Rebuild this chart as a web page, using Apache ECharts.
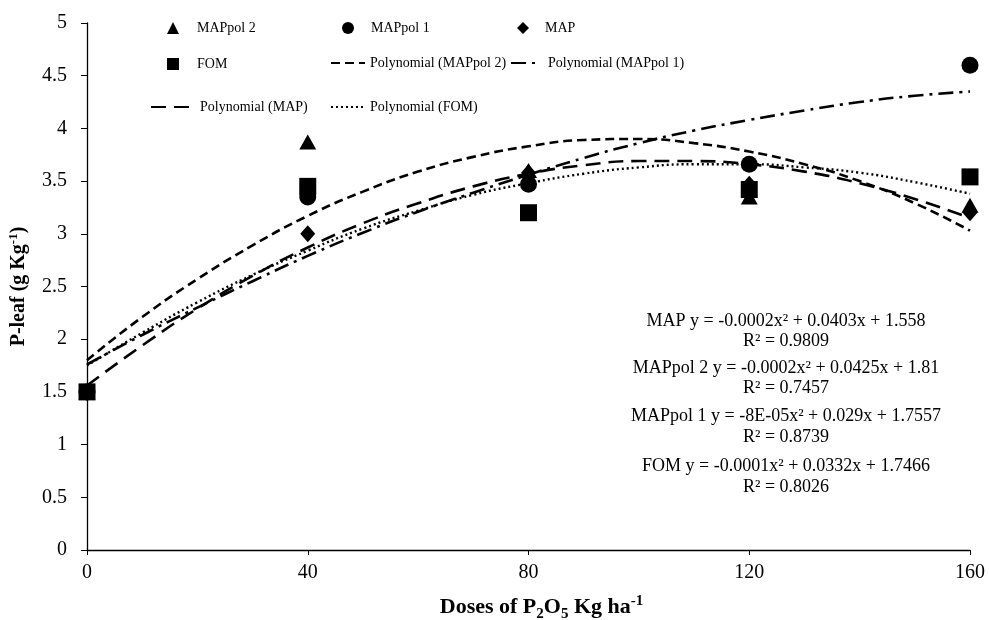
<!DOCTYPE html>
<html><head><meta charset="utf-8">
<script src="https://cdn.jsdelivr.net/npm/echarts@6/dist/echarts.min.js"></script>
<style>html,body{margin:0;padding:0;background:#fff}#c{width:989px;height:620px}</style>
</head><body><div id="c"></div>
<script>
// Data
var doses = [0, 40, 80, 120, 160];
var mapPol2 = [1.5, 3.87, 3.60, 3.35, 3.27];
var mapPol1 = [1.5, 3.35, 3.47, 3.66, 4.60];
var mapVals = [1.5, 3.00, 3.58, 3.47, 3.20];
var fomVals = [1.5, 3.45, 3.20, 3.42, 3.54];

// Trendline curves, every 10 kg
var trendX = [0,10,20,30,40,50,60,70,80,90,100,110,120,130,140,150,160];
var trendMAPpol2 = [1.80,2.21,2.57,2.89,3.17,3.40,3.59,3.73,3.83,3.89,3.90,3.86,3.78,3.66,3.50,3.29,3.03];
var trendMAPpol1 = [1.76,2.04,2.30,2.55,2.79,3.01,3.21,3.39,3.56,3.72,3.86,3.98,4.08,4.17,4.25,4.31,4.35];
var trendMAP     = [1.56,1.94,2.29,2.60,2.87,3.10,3.29,3.45,3.57,3.65,3.69,3.69,3.66,3.59,3.48,3.33,3.15];
var trendFOM     = [1.75,2.06,2.35,2.61,2.84,3.05,3.22,3.37,3.48,3.57,3.63,3.66,3.66,3.63,3.58,3.49,3.38];

var xTicks = [0, 40, 80, 120, 160];
var yTicks = [0, 0.5, 1, 1.5, 2, 2.5, 3, 3.5, 4, 4.5, 5];

var equations = [
  'MAP y = -0.0002x² + 0.0403x + 1.558', 'R² = 0.9809',
  'MAPpol 2 y = -0.0002x² + 0.0425x + 1.81', 'R² = 0.7457',
  'MAPpol 1 y = -8E-05x² + 0.029x + 1.7557', 'R² = 0.8739',
  'FOM y = -0.0001x² + 0.0332x + 1.7466', 'R² = 0.8026'
];

function pairs(xs, ys){ return xs.map(function(x,i){ return [x, ys[i]]; }); }

var FONT = '"Liberation Serif", "Times New Roman", serif';
var chart = echarts.init(document.getElementById('c'), null, {renderer:'canvas'});

function legendBox(name, left, top, w, h, pad, isLine){
  var l = {
    data:[name], left:left, top:top, itemWidth:w, itemHeight:h, itemGap:0,
    padding:0, selectedMode:false,
    textStyle:{fontFamily:FONT, fontSize:14, color:'#000', padding:[0,0,0,pad||0]}
  };
  if (isLine) {
    l.itemStyle = {color:'rgba(0,0,0,0)', borderColor:'rgba(0,0,0,0)', borderWidth:0, opacity:0};
  }
  return l;
}

var eqY = [321, 341, 368, 388, 416, 437, 466, 487];

var option = {
  backgroundColor:'#fff',
  animation:false,
  textStyle:{fontFamily:FONT},
  legend:[
    legendBox('MAPpol 2', 167, 21, 12, 12, 13),
    legendBox('MAPpol 1', 342, 21, 12, 12, 12),
    legendBox('MAP', 517, 21, 12, 12, 11),
    legendBox('FOM', 167, 57, 12, 12, 13),
    legendBox('Polynomial (MAPpol 2)', 330, 56, 34, 14, 0, true),
    legendBox('Polynomial (MAPpol 1)', 510, 56, 30, 14, 2, true),
    legendBox('Polynomial (MAP)', 150, 100, 44, 14, 0, true),
    legendBox('Polynomial (FOM)', 330, 100, 34, 14, 0, true)
  ],
  grid:{left:87, right:19, top:23, bottom:70, containLabel:false, outerBoundsMode:'none'},
  xAxis:{
    type:'value', min:0, max:160, interval:40,
    axisLine:{show:true, onZero:false, lineStyle:{color:'#000', width:1.3}},
    axisTick:{show:true, length:5, lineStyle:{color:'#000'}},
    splitLine:{show:false},
    axisLabel:{color:'#000', fontFamily:FONT, fontSize:20, margin:13,
      formatter:function(v){ return xTicks.indexOf(v) >= 0 ? String(v) : ''; }},
    name:'Doses of P{sub|2}O{sub|5} Kg ha{sup|-1}',
    nameLocation:'middle', nameGap:44,
    nameTextStyle:{color:'#000', fontFamily:FONT, fontSize:22, fontWeight:'bold', lineHeight:26, padding:[0,0,0,26],
      rich:{
        sub:{fontSize:15, fontWeight:'bold', fontFamily:FONT, color:'#000', verticalAlign:'bottom', lineHeight:26, padding:[0,0,-2,0]},
        sup:{fontSize:15, fontWeight:'bold', fontFamily:FONT, color:'#000', verticalAlign:'top', lineHeight:26, padding:[0,0,6,0]}
      }}
  },
  yAxis:{
    type:'value', min:0, max:5, interval:0.5,
    axisLine:{show:true, lineStyle:{color:'#000', width:1.3}},
    axisTick:{show:true, length:6, lineStyle:{color:'#000'}},
    splitLine:{show:false},
    axisLabel:{color:'#000', fontFamily:FONT, fontSize:20, margin:20,
      formatter:function(v){ return String(Math.round(v*10)/10); }},
    name:'P-leaf (g Kg{sup|-1})',
    nameLocation:'middle', nameGap:49, nameRotate:90,
    nameTextStyle:{color:'#000', fontFamily:FONT, fontSize:20, fontWeight:'bold', lineHeight:24,
      rich:{
        sup:{fontSize:13, fontWeight:'bold', fontFamily:FONT, color:'#000', verticalAlign:'top', lineHeight:24, padding:[0,0,6,0]}
      }}
  },
  graphic: equations.map(function(t, i){
    return {type:'text', x:786, y:eqY[i], z:100,
      style:{text:t, fill:'#000', font:'18px ' + FONT, align:'center', verticalAlign:'middle'}};
  }),
  series:[
    {name:'Polynomial (MAPpol 2)', type:'line', smooth:true, symbol:'none', data:pairs(trendX, trendMAPpol2),
      lineStyle:{color:'#000', width:2.6, type:[9,5]}, itemStyle:{color:'#000'}, z:2},
    {name:'Polynomial (MAPpol 1)', type:'line', smooth:true, symbol:'none', data:pairs(trendX, trendMAPpol1),
      lineStyle:{color:'#000', width:2.6, type:[15,6,3,6]}, itemStyle:{color:'#000'}, z:2},
    {name:'Polynomial (MAP)', type:'line', smooth:true, symbol:'none', data:pairs(trendX, trendMAP),
      lineStyle:{color:'#000', width:2.6, type:[15,8]}, itemStyle:{color:'#000'}, z:2},
    {name:'Polynomial (FOM)', type:'line', smooth:true, symbol:'none', data:pairs(trendX, trendFOM),
      lineStyle:{color:'#000', width:2.4, type:[2,3]}, itemStyle:{color:'#000'}, z:2},
    {name:'MAPpol 2', type:'scatter', symbol:'triangle', symbolSize:[17,15], data:pairs(doses, mapPol2),
      itemStyle:{color:'#000', opacity:1}, z:3},
    {name:'MAPpol 1', type:'scatter', symbol:'circle', symbolSize:17, data:pairs(doses, mapPol1),
      itemStyle:{color:'#000', opacity:1}, z:3},
    {name:'MAP', type:'scatter', symbol:'diamond', symbolSize:[15,17], data:pairs(doses, mapVals),
      itemStyle:{color:'#000', opacity:1}, z:3},
    {name:'FOM', type:'scatter', symbol:'rect', symbolSize:17, data:pairs(doses, fomVals),
      itemStyle:{color:'#000', opacity:1}, z:3}
  ]
};
chart.setOption(option);
</script>
</body></html>
